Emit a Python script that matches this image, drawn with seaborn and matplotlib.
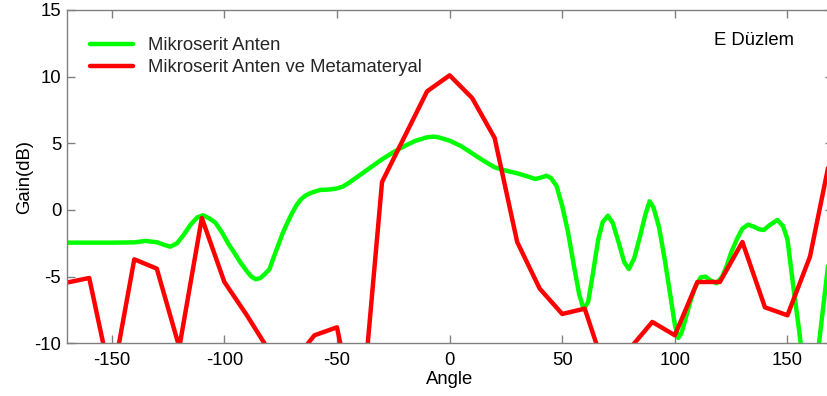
import matplotlib
matplotlib.use("Agg")
import matplotlib.pyplot as plt
import seaborn as sns
import pandas as pd

# Radiation pattern, E plane: gain (dB) versus angle (degrees)
green_angle = [-170, -160, -150, -140, -135, -130, -127, -124, -121, -118, -115, -112,
               -109.5, -107, -104, -101, -98, -96, -93, -90, -88, -86, -84, -82, -80,
               -78, -76, -74, -72, -70, -68, -66, -64, -62, -60, -57.5, -55, -52.5, -50,
               -47.5, -45, -40, -35, -30, -25, -20, -15, -10, -7, -5, 0, 5, 10, 15, 20,
               25, 30, 35, 38, 41, 43, 45, 47.5, 50, 52.5, 55, 57.5, 59.5, 61.5, 63.5,
               66, 68, 70.3, 72.5, 75, 77.5, 79.6, 82, 84.5, 87, 88.8, 90.5, 93, 95.5,
               98, 100, 101.5, 103, 105, 107, 109, 111.5, 113.5, 116, 118.5, 121, 123,
               125, 127.5, 130, 132.5, 135, 137.5, 139.5, 142, 145.5, 148, 150, 152.5,
               155, 157, 160, 162, 164, 166, 168, 170]
green_gain = [-2.45, -2.45, -2.45, -2.43, -2.32, -2.42, -2.6, -2.75, -2.5, -1.85, -1.1, -0.55,
              -0.4, -0.6, -0.95, -1.7, -2.6, -3.1, -3.9, -4.6, -5.0, -5.2, -5.1, -4.8, -4.45,
              -3.5, -2.6, -1.7, -0.95, -0.25, 0.35, 0.8, 1.08, 1.25, 1.37, 1.5, 1.52, 1.55, 1.62,
              1.75, 2.0, 2.6, 3.2, 3.8, 4.33, 4.8, 5.2, 5.45, 5.5, 5.45, 5.2, 4.8, 4.25, 3.7, 3.2,
              2.95, 2.75, 2.5, 2.32, 2.45, 2.57, 2.4, 1.8, 0.3, -1.6, -4.0, -6.3, -7.45, -6.9, -4.9,
              -2.2, -0.9, -0.43, -1.0, -2.4, -3.9, -4.43, -3.6, -2.0, -0.3, 0.65, 0.2, -1.3, -3.7,
              -6.4, -8.6, -9.6, -9.2, -8.0, -6.8, -5.8, -5.05, -5.0, -5.3, -5.5, -5.0, -4.2,
              -3.2, -2.2, -1.4, -1.1, -1.25, -1.45, -1.5, -1.15, -0.75, -1.2, -2.2, -5.6,
              -8.8, -11.5, -14.0, -12.5, -10.0, -7.1, -4.2, -1.5]

red_angle = [-170, -160, -150, -140, -130, -120, -110, -100, -90, -80, -70, -60, -50, -40,
             -30, -20, -10, 0, 10, 20, 30, 40, 50, 60, 70, 80, 90, 100, 110, 120, 130, 140,
             150, 160, 170]
red_gain = [-5.45, -5.1, -13.0, -3.7, -4.4, -10.3, -0.6, -5.4, -7.9, -10.6, -11.5, -9.4, -8.8,
            -17.0, 2.1, 5.5, 8.9, 10.1, 8.4, 5.4, -2.4, -5.9, -7.8, -7.4, -12.5, -10.4, -8.4,
            -9.4, -5.4, -5.4, -2.4, -7.3, -7.9, -3.5, 4.8]

series_names = ["Mikroserit Anten", "Mikroserit Anten ve Metamateryal"]
series_colors = ["#00ff00", "#ff0000"]
x_ticks = [-150, -100, -50, 0, 50, 100, 150]
y_ticks = [-10, -5, 0, 5, 10, 15]

FS = 13.3
LW = 3.2

sns.set_theme(style="white")
plt.rcParams["font.family"] = ["Liberation Sans", "DejaVu Sans"]
plt.rcParams["axes.unicode_minus"] = False

df = pd.concat([
    pd.DataFrame({"Angle": green_angle, "Gain": green_gain, "Seri": series_names[0]}),
    pd.DataFrame({"Angle": red_angle, "Gain": red_gain, "Seri": series_names[1]}),
], ignore_index=True)

fig = plt.figure(figsize=(8.27, 3.96), dpi=100)
ax = fig.add_axes([66.7 / 827, 52.7 / 396, 765.8 / 827, 333.3 / 396])

sns.lineplot(data=df, x="Angle", y="Gain", hue="Seri", palette=series_colors,
             hue_order=series_names, sort=False, estimator=None, linewidth=LW,
             ax=ax, legend=True)

ax.set_xlim(-170, 170)
ax.set_ylim(-10, 15)
ax.set_xticks(x_ticks)
ax.set_yticks(y_ticks)
ax.set_xticklabels([str(v) for v in x_ticks])
ax.set_yticklabels([str(v) for v in y_ticks])

spine_color = "#808080"
for s in ax.spines.values():
    s.set_visible(True)
    s.set_color(spine_color)
    s.set_linewidth(1.0)

ax.tick_params(axis="both", which="major", direction="in", length=6, width=1,
               color=spine_color, labelcolor="black", labelsize=FS,
               top=True, right=True, bottom=True, left=True)
ax.tick_params(axis="x", pad=6)
ax.tick_params(axis="y", pad=4)

ax.set_xlabel("Angle", fontsize=FS, color="black")
ax.set_ylabel("Gain(dB)", fontsize=FS, color="black")
ax.xaxis.set_label_coords(0.5, -0.082)
ax.yaxis.set_label_coords(-0.044, 0.5)

leg = ax.legend(loc="upper left", bbox_to_anchor=(90 / 827, 1 - 37 / 396),
                bbox_transform=fig.transFigure, frameon=False,
                fontsize=FS, handlelength=2.33, handletextpad=0.8,
                labelspacing=0.27, borderaxespad=0.0, borderpad=0.0, title=None)
for line in leg.get_lines():
    line.set_linewidth(LW)

ax.text(117.6, 12.7, "E Düzlem", fontsize=FS, color="black", va="center", ha="left")

fig.savefig("out.png", dpi=100)
